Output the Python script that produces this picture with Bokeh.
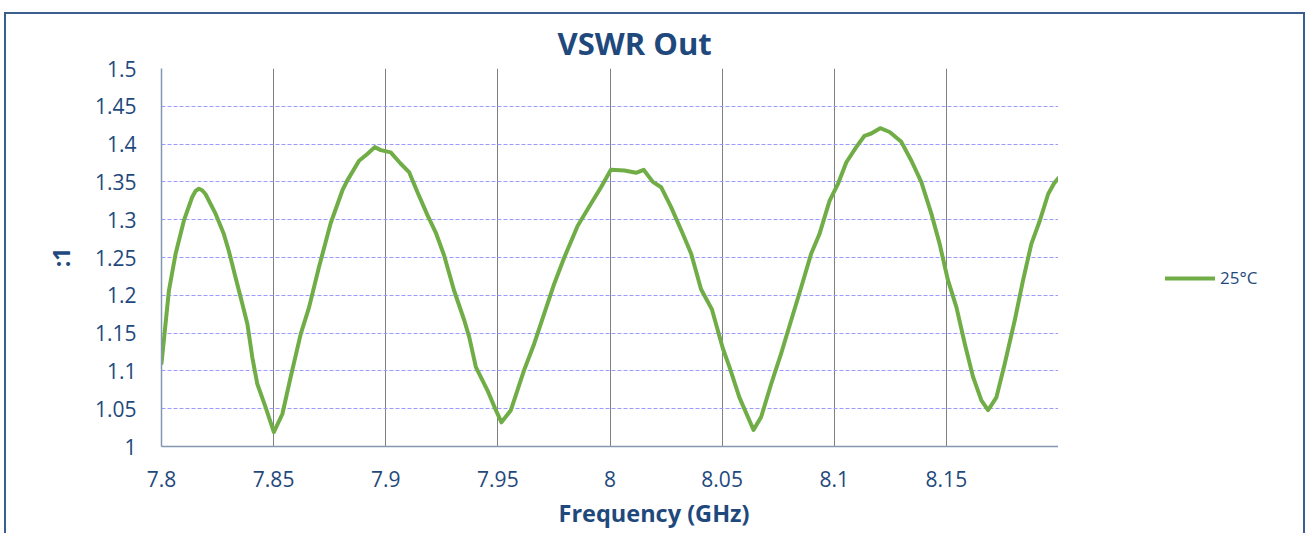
from bokeh.plotting import figure
from bokeh.models import FixedTicker, Legend, LegendItem, Range1d, Title
from bokeh.layouts import row
from bokeh.embed import file_html
from bokeh.resources import INLINE

# ---- data ----
freq_ghz = [
    7.8000, 7.8033, 7.8063, 7.8100, 7.8137, 7.8152, 7.8167, 7.8181, 7.8196, 7.8241, 7.8278, 7.8300,
    7.8330, 7.8360, 7.8383, 7.8405, 7.8427, 7.8464, 7.8501, 7.8539, 7.8576, 7.8621,
    7.8658, 7.8702, 7.8754, 7.8807, 7.8829, 7.8881, 7.8918, 7.8951, 7.8978, 7.9022,
    7.9067, 7.9104, 7.9142, 7.9186, 7.9223, 7.9260, 7.9305, 7.9350, 7.9372, 7.9402,
    7.9454, 7.9491, 7.9516, 7.9558, 7.9617, 7.9662, 7.9707, 7.9751, 7.9796, 7.9856,
    7.9915, 7.9960, 8.0004, 8.0064, 8.0116, 8.0150, 8.0191, 8.0228, 8.0272, 8.0325,
    8.0362, 8.0406, 8.0455, 8.0503, 8.0533, 8.0577, 8.0615, 8.0640, 8.0674, 8.0719,
    8.0763, 8.0808, 8.0853, 8.0897, 8.0934, 8.0979, 8.1016, 8.1054, 8.1098, 8.1135,
    8.1165, 8.1205, 8.1247, 8.1299, 8.1344, 8.1388, 8.1433, 8.1470, 8.1507, 8.1545,
    8.1582, 8.1619, 8.1656, 8.1686, 8.1723, 8.1760, 8.1805, 8.1842, 8.1879, 8.1917,
    8.1954, 8.1980, 8.2000,
]
vswr_25c = [
    1.110, 1.206, 1.255, 1.299, 1.330, 1.338, 1.341, 1.339, 1.334, 1.308, 1.281, 1.259,
    1.224, 1.189, 1.162, 1.118, 1.083, 1.052, 1.019, 1.043, 1.092, 1.149,
    1.184, 1.237, 1.295, 1.339, 1.352, 1.378, 1.387, 1.396, 1.392, 1.389,
    1.374, 1.363, 1.336, 1.306, 1.283, 1.253, 1.206, 1.167, 1.145, 1.105,
    1.074, 1.048, 1.032, 1.048, 1.101, 1.136, 1.176, 1.215, 1.250, 1.292,
    1.321, 1.343, 1.366, 1.365, 1.362, 1.366, 1.350, 1.343, 1.317, 1.281,
    1.255, 1.208, 1.181, 1.130, 1.105, 1.065, 1.039, 1.022, 1.039, 1.083,
    1.123, 1.167, 1.211, 1.255, 1.281, 1.325, 1.347, 1.376, 1.396, 1.411,
    1.414, 1.421, 1.416, 1.403, 1.378, 1.350, 1.308, 1.268, 1.220, 1.184,
    1.136, 1.092, 1.061, 1.048, 1.065, 1.109, 1.167, 1.220, 1.268, 1.299,
    1.334, 1.348, 1.355,
]
series_label = "25°C"
x_ticks = [7.8, 7.85, 7.9, 7.95, 8.0, 8.05, 8.1, 8.15]
x_tick_labels = ["7.8", "7.85", "7.9", "7.95", "8", "8.05", "8.1", "8.15"]
y_ticks = [1.0, 1.05, 1.1, 1.15, 1.2, 1.25, 1.3, 1.35, 1.4, 1.45, 1.5]
y_tick_labels = ["1", "1.05", "1.1", "1.15", "1.2", "1.25", "1.3", "1.35", "1.4", "1.45", "1.5"]
title_text = "VSWR Out"
x_label = "Frequency (GHz)"
y_label = ":1"

# ---- styling ----
TEXT = "#1F497D"
FONT = "Open Sans"
FRAME = "#3A5F8D"
LINE = "#70AD47"

p = figure(
    width=1052, height=519,
    x_range=Range1d(7.8, 8.2), y_range=Range1d(1.0, 1.5),
    output_backend="svg", toolbar_location=None,
    min_border_left=155, min_border_right=0,
    min_border_top=54, min_border_bottom=87,
    title=title_text,
)
p.outline_line_color = None
p.background_fill_color = "white"
p.border_fill_color = "white"

p.title.align = "left"
p.title.offset = 396
p.title.text_font = FONT
p.title.text_font_size = "31px"
p.title.text_font_style = "bold"
p.title.text_color = TEXT

r = p.line(freq_ghz, vswr_25c, line_color=LINE, line_width=4,
           line_join="round", line_cap="round")

for ax in (p.xaxis[0], p.yaxis[0]):
    ax.axis_line_color = "#8497B0"
    ax.axis_line_width = 1.5
    ax.major_tick_line_color = None
    ax.minor_tick_line_color = None
    ax.major_tick_out = 0
    ax.major_tick_in = 0
    ax.minor_tick_out = 0
    ax.major_label_text_font = FONT
    ax.major_label_text_font_size = "21px"
    ax.major_label_text_color = TEXT
    ax.axis_label_text_font = FONT
    ax.axis_label_text_font_style = "bold"
    ax.axis_label_text_color = TEXT

p.xaxis.ticker = FixedTicker(ticks=x_ticks)
p.xaxis.major_label_overrides = dict(zip(x_ticks, x_tick_labels))
p.xaxis.major_label_standoff = 24

# x-axis title, placed right of centre like in the reference
xt = Title(text=x_label, align="left", offset=397, standoff=10,
           text_font=FONT, text_font_size="23.5px", text_font_style="bold",
           text_color=TEXT)
p.add_layout(xt, "below")

p.yaxis.ticker = FixedTicker(ticks=y_ticks)
p.yaxis.major_label_overrides = dict(zip(y_ticks, y_tick_labels))
p.yaxis.axis_label = y_label
p.yaxis.axis_label_text_font_size = "23px"
p.yaxis.major_label_standoff = 25
p.yaxis.axis_label_standoff = 15

p.xgrid.ticker = FixedTicker(ticks=x_ticks)
p.xgrid.grid_line_color = "#808080"
p.xgrid.grid_line_width = 1
p.ygrid.ticker = FixedTicker(ticks=y_ticks)
p.ygrid.grid_line_color = "#9A9AFF"
p.ygrid.grid_line_width = 1
p.ygrid.grid_line_dash = "4 2"

# legend panel to the right of the plot area
pl = figure(
    width=245, height=519,
    x_range=Range1d(0, 1), y_range=Range1d(0, 1),
    output_backend="svg", toolbar_location=None,
    x_axis_location=None, y_axis_location=None,
    min_border=0,
)
pl.grid.visible = False
pl.outline_line_color = None
pl.background_fill_color = "white"
pl.border_fill_color = "white"
# legend proxy: one series point, outside this panel's view, so only its legend sample shows
proxy = pl.line(freq_ghz[:1], vswr_25c[:1], line_color=LINE, line_width=4, line_cap="round")

legend = Legend(
    items=[LegendItem(label=series_label, renderers=[proxy])],
    location=(107, 157),
    padding=0, margin=0, spacing=0,
    glyph_width=50, glyph_height=20, label_height=20,
    label_standoff=5,
    label_text_font=FONT, label_text_font_size="17px", label_text_color=TEXT,
    border_line_color=None, background_fill_alpha=0,
)
pl.add_layout(legend)

layout = row(p, pl, spacing=0)
layout.styles = {
    "margin-left": "4px",
    "margin-top": "12px",
    "border-top": f"2px solid {FRAME}",
    "border-left": f"2px solid {FRAME}",
    "border-right": f"2px solid {FRAME}",
}

open("out.html", "w").write(file_html(layout, INLINE))
